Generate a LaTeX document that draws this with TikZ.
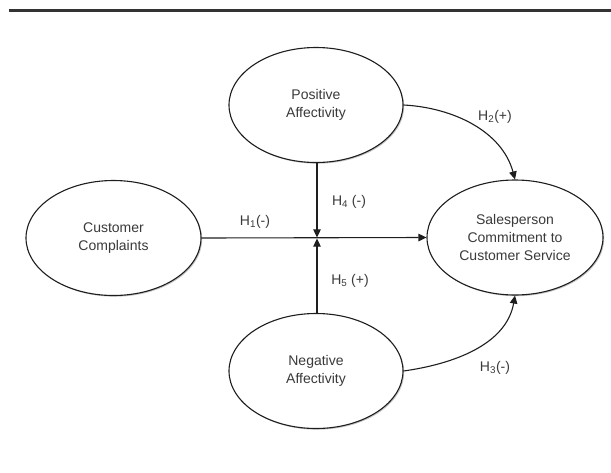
\documentclass[tikz,border=0pt]{standalone}
\usepackage{fontspec}
\setmainfont{Liberation Sans}
\usetikzlibrary{shapes.geometric,arrows.meta,shadows}
\definecolor{txt}{HTML}{3A3A3A}
\definecolor{ln}{HTML}{1E1E1E}
\begin{document}
\begin{tikzpicture}[x=1pt,y=-1pt,
  construct/.style={ellipse,draw=ln,line width=1.1pt,fill=white,
    minimum width=174pt,minimum height=115pt,inner sep=0pt,
    align=center,text=txt,font=\fontsize{14}{18}\selectfont,
    drop shadow={shadow xshift=1.2pt,shadow yshift=-1.2pt,fill=black!45}},
  link/.style={draw=ln,line width=1.1pt,-{Triangle[length=8pt,width=7.5pt]}},
  hyp/.style={text=txt,font=\fontsize{14}{17}\selectfont,inner sep=0pt}]
\useasboundingbox (0,0) rectangle (611,472);
\draw[line width=2.6pt,draw=black!80] (8.5,10.5) -- (611,10.5);
\node[construct] (pos) at (316,105) {Positive\\Affectivity};
\node[construct,minimum width=175pt] (cc) at (113.5,238) {Customer\\Complaints};
\node[construct,minimum width=176pt] (sp) at (515,237.5) {Salesperson\\Commitment to\\Customer Service};
\node[construct] (neg) at (316,371) {Negative\\Affectivity};
\coordinate (J) at (317,238);
\coordinate (Jt) at (317,237.4);
\coordinate (Jb) at (317,238.6);
\draw[link] (cc.east) -- (sp.west);
\draw[link] (pos.south -| J) -- (Jt);
\draw[link] (neg.north -| J) -- (Jb);
\draw[link] (pos.east) to[out=-3,in=105,looseness=0.95] (sp.north);
\draw[link] (neg.east) to[out=8,in=-100,looseness=0.95] (sp.south);
\node[hyp] (h1) at (255,222) {H\textsubscript{1}(-)};
\node[hyp] (h4) at (349,202) {H\textsubscript{4} (-)};
\node[hyp] (h5) at (350,281) {H\textsubscript{5} (+)};
\node[hyp] (h2) at (495,117) {H\textsubscript{2}(+)};
\node[hyp] (h3) at (495,368) {H\textsubscript{3}(-)};
\end{tikzpicture}
\end{document}
